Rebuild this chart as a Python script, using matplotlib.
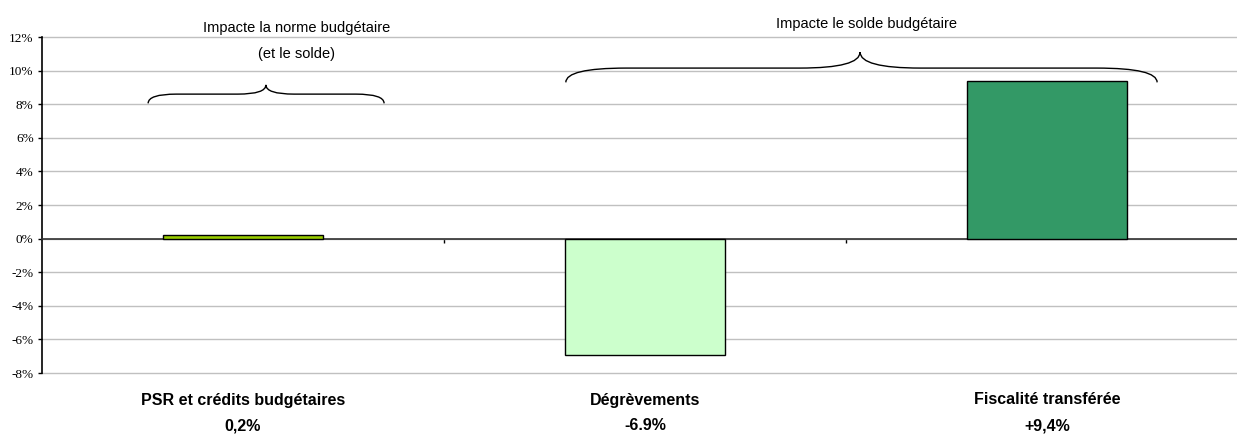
import matplotlib
matplotlib.use('Agg')
import matplotlib.pyplot as plt
from matplotlib.path import Path
from matplotlib.patches import PathPatch
from matplotlib.ticker import FuncFormatter
import matplotlib.transforms as mtransforms

categories = ['PSR et crédits budgétaires', 'Dégrèvements', 'Fiscalité transférée']
values = [0.2, -6.9, 9.4]
value_labels = ['0,2%', '-6.9%', '+9,4%']
bar_colors = ['#99CC00', '#CCFFCC', '#339966']
yticks = [-8, -6, -4, -2, 0, 2, 4, 6, 8, 10, 12]


def brace(ax, x0, x1, xm, y0, yh, yt, r):
    verts = [(x0, y0), (x0, yh), (x0 + r, yh),
             (xm - r, yh), (xm, yh), (xm, yt),
             (xm, yh), (xm + r, yh),
             (x1 - r, yh), (x1, yh), (x1, y0)]
    codes = [Path.MOVETO, Path.CURVE3, Path.CURVE3,
             Path.LINETO, Path.CURVE3, Path.CURVE3,
             Path.CURVE3, Path.CURVE3,
             Path.LINETO, Path.CURVE3, Path.CURVE3]
    ax.add_patch(PathPatch(Path(verts, codes), fill=False, lw=1.0,
                           ec='black', clip_on=False))


fig = plt.figure(figsize=(12.37, 4.37), dpi=100)
W, H = 1237, 437
ax = fig.add_axes([42 / W, (H - 373) / H, 1206 / W, 336 / H])

x = range(len(categories))
ax.bar(x, values, width=0.4, color=bar_colors, edgecolor='black', linewidth=1.0, zorder=3)

ax.set_xlim(-0.5, 2.5)
ax.set_ylim(-8, 12)
ax.set_yticks(yticks)
ax.yaxis.set_major_formatter(FuncFormatter(lambda v, p: f'{int(v)}%'))
ax.grid(axis='y', color='#c0c0c0', lw=1.0, zorder=0)
for gl in ax.get_ygridlines():
    gl.set_clip_on(False)
ax.set_axisbelow(True)
for lab in ax.get_yticklabels():
    lab.set_fontfamily('Liberation Serif')
    lab.set_fontsize(9.5)
ax.tick_params(axis='y', length=3, width=1, pad=3)

ax.spines['top'].set_visible(False)
ax.spines['right'].set_visible(False)
ax.spines['left'].set_linewidth(1.2)
ax.spines['bottom'].set_position(('data', 0))
ax.spines['bottom'].set_color('#333333')
ax.spines['bottom'].set_linewidth(1.2)
ax.set_xticks([0.5, 1.5])
ax.set_xticklabels([])
ax.tick_params(axis='x', length=3, width=1, direction='out')

trans = mtransforms.blended_transform_factory(ax.transData, fig.transFigure)
for i, (c, v) in enumerate(zip(categories, value_labels)):
    ax.text(i, 1 - 400 / H, c, transform=trans, ha='center', va='center',
            fontsize=11.5, fontweight='bold', family='Liberation Sans')
    ax.text(i, 1 - 426 / H, v, transform=trans, ha='center', va='center',
            fontsize=11.5, fontweight='bold', family='Liberation Sans')

# braces and annotations
brace(ax, -0.236, 0.351, 0.057, 8.05, 8.6, 9.15, 0.07)
brace(ax, 0.803, 2.274, 1.535, 9.3, 10.15, 11.1, 0.15)
ax.text(0.134, 12.55, 'Impacte la norme budgétaire', ha='center', va='center',
        fontsize=10.5, family='Liberation Sans', clip_on=False)
ax.text(0.134, 11.0, '(et le solde)', ha='center', va='center',
        fontsize=10.5, family='Liberation Sans', clip_on=False)
ax.text(1.55, 12.75, 'Impacte le solde budgétaire', ha='center', va='center',
        fontsize=10.5, family='Liberation Sans', clip_on=False)

fig.savefig('out.png', dpi=100)
